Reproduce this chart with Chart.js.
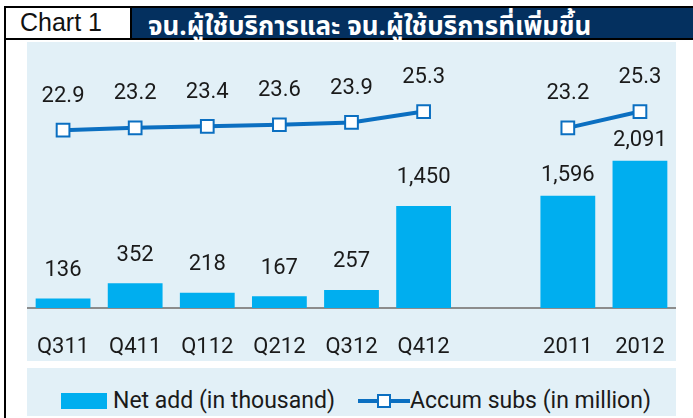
<!DOCTYPE html>
<html>
<head>
<meta charset="utf-8">
<script src="https://cdn.jsdelivr.net/npm/chart.js@4"></script>
<style>
  body { margin: 0; width: 693px; height: 418px; background: #fff; position: relative; overflow: hidden; font-family: Roboto, sans-serif; }
  .abs { position: absolute; }
  #leftLine { left: 4px; top: 6px; width: 2px; height: 412px; background: #000; }
  #topLine { left: 4px; top: 6px; width: 689px; height: 2px; background: #000; }
  #bottomLine { left: 4px; top: 38px; width: 689px; height: 2px; background: #000; }
  #sepLine { left: 130px; top: 6px; width: 2px; height: 34px; background: #000; }
  #chartNo { left: 20px; top: 8px; height: 30px; line-height: 30px; font: 25px "Liberation Sans", Arial, sans-serif; color: #111; }
  #titleBox { left: 132px; top: 8px; width: 561px; height: 30px; background: #04305f; }
  #title { left: 148px; top: 7px; height: 30px; line-height: 30px; font: bold 26px "Noto Sans Thai", Tahoma, "DejaVu Sans", sans-serif; color: #fff; white-space: nowrap; }
  #plotBg { left: 27px; top: 42px; width: 649px; height: 319px; background: #e2f0f7; }
  #legendBg { left: 27px; top: 368px; width: 649px; height: 48px; background: #e2f0f7; }
  #wrap { left: 27px; top: 42px; width: 649px; height: 319px; }
  #legend { left: 27px; top: 376px; width: 649px; height: 48px; font: 23px Roboto, sans-serif; color: #1a1a1a; }
  .item { position: absolute; top: 0; height: 48px; line-height: 48px; white-space: nowrap; }
</style>
</head>
<body>
<div class="abs" id="plotBg"></div>
<div class="abs" id="legendBg"></div>
<div class="abs" id="leftLine"></div>
<div class="abs" id="topLine"></div>
<div class="abs" id="titleBox"></div>
<div class="abs" id="bottomLine"></div>
<div class="abs" id="sepLine"></div>
<div class="abs" id="chartNo">Chart 1</div>
<div class="abs" id="title">จน.ผู้ใช้บริการและ จน.ผู้ใช้บริการที่เพิ่มขึ้น</div>
<div class="abs" id="wrap"><canvas id="subsChart"></canvas></div>
<div class="abs" id="legend">
  <div class="item" style="left:34px;"><span style="display:inline-block;width:46px;height:16px;background:#00aeef;vertical-align:middle;margin-right:6px;"></span><span style="vertical-align:middle;">Net add (in thousand)</span></div>
  <div class="item" style="left:331px;"><canvas id="lineIcon" width="52" height="20" style="vertical-align:middle;"></canvas><span style="vertical-align:middle;">Accum subs (in million)</span></div>
</div>
<script>
const categories = ['Q311', 'Q411', 'Q112', 'Q212', 'Q312', 'Q412', '', '2011', '2012'];
const netAdd = [136, 352, 218, 167, 257, 1450, null, 1596, 2091];
const accumSubs = [22.9, 23.2, 23.4, 23.6, 23.9, 25.3, null, 23.2, 25.3];
const netAddLabels = ['136', '352', '218', '167', '257', '1,450', '', '1,596', '2,091'];
const accumLabels = ['22.9', '23.2', '23.4', '23.6', '23.9', '25.3', '', '23.2', '25.3'];

const barColor = '#00aeef';
const lineColor = '#0b6fc1';

// legend icon for the line series
const ic = document.getElementById('lineIcon').getContext('2d');
ic.strokeStyle = lineColor;
ic.lineWidth = 4;
ic.beginPath(); ic.moveTo(0, 10); ic.lineTo(52, 10); ic.stroke();
ic.fillStyle = '#fff';
ic.lineWidth = 2;
ic.fillRect(20, 4, 12, 12);
ic.strokeRect(20, 4, 12, 12);

const valueLabels = {
  id: 'valueLabels',
  afterDatasetsDraw(chart) {
    const ctx = chart.ctx;
    ctx.save();
    ctx.font = '22px Roboto, sans-serif';
    ctx.fillStyle = '#1a1a1a';
    ctx.textAlign = 'center';
    ctx.textBaseline = 'middle';
    // dataset 0 = line, dataset 1 = bars; yearly bars (after the gap) sit labels a bit closer
    chart.getDatasetMeta(1).data.forEach((el, i) => {
      if (netAdd[i] == null) return;
      const gap = i > 6 ? 20 : 28;
      ctx.fillText(netAddLabels[i], el.x, el.y - gap);
    });
    chart.getDatasetMeta(0).data.forEach((el, i) => {
      if (accumSubs[i] == null) return;
      ctx.fillText(accumLabels[i], el.x, el.y - 34);
    });
    ctx.restore();
  }
};

new Chart(document.getElementById('subsChart').getContext('2d'), {
  type: 'bar',
  data: {
    labels: categories,
    datasets: [
      {
        type: 'line',
        label: 'Accum subs (in million)',
        data: accumSubs,
        yAxisID: 'y2',
        borderColor: lineColor,
        borderWidth: 4,
        pointStyle: 'rect',
        pointRadius: 9,
        pointBorderWidth: 2,
        pointBackgroundColor: '#fff',
        pointBorderColor: lineColor,
        spanGaps: false,
        order: 0
      },
      {
        label: 'Net add (in thousand)',
        data: netAdd,
        yAxisID: 'y',
        backgroundColor: barColor,
        borderWidth: 0,
        barPercentage: 0.76,
        categoryPercentage: 1,
        order: 1
      }
    ]
  },
  options: {
    responsive: true,
    maintainAspectRatio: false,
    animation: false,
    layout: { autoPadding: false, padding: { top: 2, left: 0, right: 0, bottom: 0 } },
    plugins: {
      legend: { display: false },
      tooltip: { enabled: false }
    },
    scales: {
      x: {
        grid: { display: true, drawOnChartArea: false, drawTicks: true, tickLength: 26, color: 'rgba(0,0,0,0)' },
        border: { color: '#8c8c8c', width: 2 },
        ticks: {
          color: '#1a1a1a',
          font: { family: 'Roboto', size: 22 },
          padding: 0,
          maxRotation: 0,
          autoSkip: false
        },
        afterFit(scale) { scale.height = 53; }
      },
      y: { display: false, min: 0, max: 3750 },
      y2: { display: false, min: 0, max: 34 }
    }
  },
  plugins: [valueLabels]
});
</script>
</body>
</html>
